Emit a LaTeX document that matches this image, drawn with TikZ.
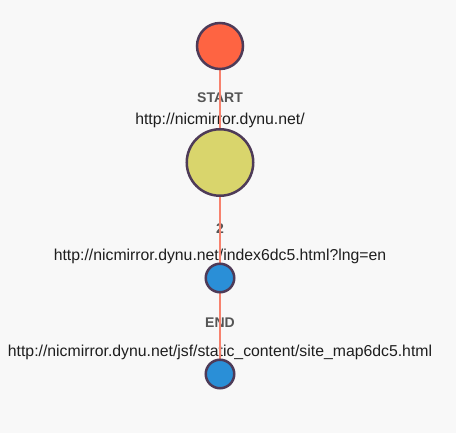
\documentclass[tikz,border=0pt]{standalone}
\usepackage{fontspec}
\setmainfont{Liberation Sans}
\begin{document}
\begin{tikzpicture}[x=1pt,y=-1pt,
  pnode/.style={circle,draw=strokec,line width=2.5pt,inner sep=0pt,minimum size=#1},
  url/.style={text=urlc,font=\fontsize{15.8}{18}\selectfont,inner sep=0pt,anchor=center},
  lab/.style={text=labc,font=\fontsize{14}{16}\selectfont\bfseries,inner sep=0pt,anchor=center},
  link/.style={draw=linkc,line width=2.8pt}]
\definecolor{bgc}{HTML}{F8F8F8}
\definecolor{strokec}{HTML}{4E3B58}
\definecolor{redc}{HTML}{FE6442}
\definecolor{yelc}{HTML}{D9D56C}
\definecolor{bluec}{HTML}{2A8FD7}
\definecolor{linkc}{HTML}{F7826E}
\definecolor{urlc}{HTML}{1E1E1E}
\definecolor{labc}{HTML}{555555}
\fill[bgc] (0,0) rectangle (456,433);
\useasboundingbox (0,0) rectangle (456,433);
% texts
\node[lab] (l1) at (220,98) {START};
\node[url] (u1) at (220,120) {http://nicmirror.dynu.net/};
\node[lab] (l2) at (220,229) {2};
\node[url] (u2) at (220,256) {http://nicmirror.dynu.net/index6dc5.html?lng=en};
\node[lab] (l3) at (220,323) {END};
\node[url] (u3) at (220,352) {http://nicmirror.dynu.net/jsf/static\_content/site\_map6dc5.html};
% node positions
\coordinate (c0) at (220,46);
\coordinate (c1) at (220,162.5);
\coordinate (c2) at (220,278);
\coordinate (c3) at (220,374);
% links
\draw[link] (c0) -- (c1);
\draw[link] (c1) -- (c2);
\draw[link] (c2) -- (c3);
% circles
\node[pnode=46pt,fill=redc] (n0) at (c0) {};
\node[pnode=66.5pt,fill=yelc] (n1) at (c1) {};
\node[pnode=28.5pt,fill=bluec] (n2) at (c2) {};
\node[pnode=28.5pt,fill=bluec] (n3) at (c3) {};
\end{tikzpicture}
\end{document}
